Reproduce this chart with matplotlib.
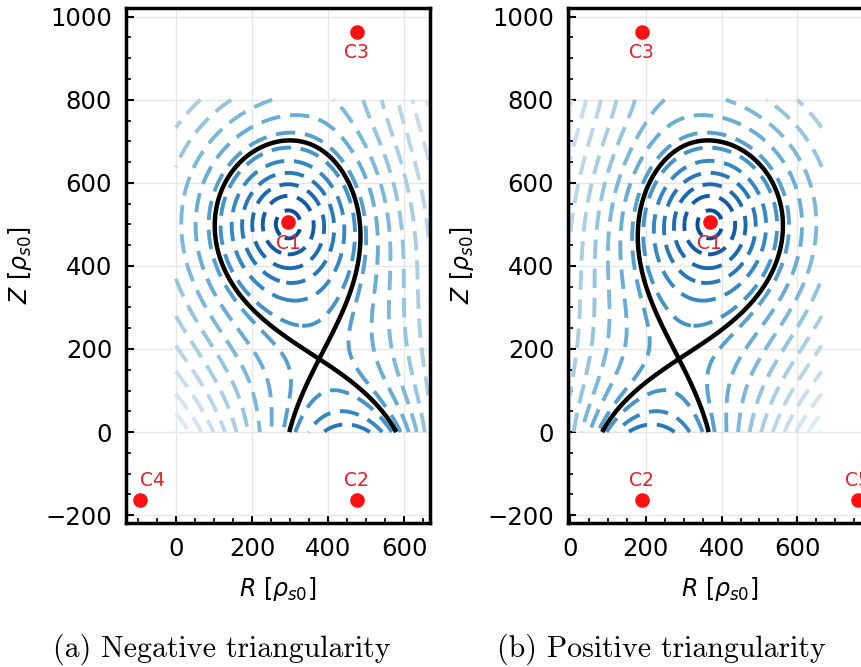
import numpy as np
import matplotlib
matplotlib.use("Agg")
import matplotlib.pyplot as plt
from matplotlib.colors import Normalize
from matplotlib.ticker import MultipleLocator

plt.rcParams["font.family"] = "DejaVu Sans"
plt.rcParams["mathtext.fontset"] = "dejavusans"

# coils (positions in rho_s0), C4/C5 sit outside the view of one panel each
coil_names = ["C1", "C2", "C3", "C4", "C5"]
coil_Z = [505, -163, 963, -163, -163]
coil_R_neg = [295, 475, 475, -95, 759]
coil_R_pos = [369, 189, 189, -95, 759]
coil_I_neg = [1.0, 1.509, 0.357, -0.613, -0.316]
coil_I_pos = [1.0, 1.509, 0.357, -0.316, -0.613]
field_R_neg = -0.099   # uniform background term, per 100 rho_s0
field_R_pos = 0.099
core_width = 100.0     # C1 is a smoothed plasma current

shown_neg = ["C1", "C2", "C3", "C4"]
shown_pos = ["C1", "C2", "C3", "C5"]
xpt_guess_neg = (374, 179)
xpt_guess_pos = (290, 179)

domain_R = (0, 664)
domain_Z = (0, 800)
flux_step = 0.14

RR, ZZ = np.meshgrid(np.linspace(*domain_R, 333), np.linspace(*domain_Z, 401))


def flux(R, Z, coils_R, currents, field_R):
    psi = field_R * (R - 332.0) / 100.0
    for k, (r0, z0, cur) in enumerate(zip(coils_R, coil_Z, currents)):
        soft = core_width if k == 0 else 1.0
        psi = psi - 0.5 * cur * np.log((R - r0) ** 2 + (Z - z0) ** 2 + soft ** 2)
    return psi


def saddle_level(coils_R, currents, field_R, guess):
    rr, zz = np.meshgrid(np.arange(guess[0] - 60, guess[0] + 60, 0.5),
                         np.arange(guess[1] - 60, guess[1] + 60, 0.5))
    p = flux(rr, zz, coils_R, currents, field_R)
    gz, gr = np.gradient(p)
    return p.flat[np.argmin(gr ** 2 + gz ** 2)]


fig = plt.figure(figsize=(8.62, 6.67), dpi=100)
panels = [
    (fig.add_axes([0.1462, 0.2159, 0.3527, 0.7721]), coil_R_neg, coil_I_neg, field_R_neg, shown_neg,
     (-131, 668), xpt_guess_neg, "(a) Negative triangularity", 222),
    (fig.add_axes([0.6590, 0.2159, 0.3527, 0.7721]), coil_R_pos, coil_I_pos, field_R_pos, shown_pos,
     (-5, 797), xpt_guess_pos, "(b) Positive triangularity", 661),
]
for ax, cR, cur, fR, shown, xlim, guess, cap, capx in panels:
    psi = flux(RR, ZZ, cR, cur, fR)
    psi_x = saddle_level(cR, cur, fR, guess)
    levels = psi_x + flux_step * (np.arange(-60, 60) + 0.5)
    levels = levels[(levels > psi.min()) & (levels < psi.max())]
    span = levels.max() - levels.min()
    cs = ax.contour(RR, ZZ, psi, levels=levels, cmap="Blues",
                    norm=Normalize(levels.min() - 0.1 * span, levels.max() + 0.15 * span),
                    linewidths=2.8)
    cs.set_linestyle((0, (5, 2.5)))
    ax.contour(RR, ZZ, psi, levels=[psi_x], colors="k", linewidths=3.2, linestyles="solid")

    for name, r, z in zip(coil_names, cR, coil_Z):
        if name not in shown:
            continue
        ax.plot(r, z, "o", color="#ff1010", ms=9.5, zorder=5)
        off = (0, -15) if z > 0 else (0, 14)
        ha = "left" if name == "C4" else "center"
        ax.annotate(name, (r, z), xytext=off, textcoords="offset points", ha=ha, va="center",
                    color="#e8202a", fontsize=13.5)

    ax.set_xticks(range(0, 601, 200))
    ax.set_yticks(range(-200, 1001, 200))
    ax.set_xlim(*xlim)
    ax.set_ylim(-219, 1021)
    ax.xaxis.set_minor_locator(MultipleLocator(50))
    ax.yaxis.set_minor_locator(MultipleLocator(50))
    ax.tick_params(which="both", direction="in", top=False, right=False, labelsize=17.5, pad=10)
    ax.tick_params(which="major", length=6, width=1.5)
    ax.tick_params(which="minor", length=3.5, width=1.2)
    for s in ax.spines.values():
        s.set_linewidth(2.5)
    ax.grid(True, color="#e6e6e6", lw=1)
    ax.set_axisbelow(True)
    ax.set_xlabel(r"$R\ [\rho_{s0}]$", fontsize=17, labelpad=10)
    ax.set_ylabel(r"$Z\ [\rho_{s0}]$", fontsize=17, labelpad=8)
    fig.text(capx / 862, 1 - 649 / 667, cap, ha="center", va="center", family="cmr10", fontsize=21.5)

fig.savefig("out.png", dpi=100)
